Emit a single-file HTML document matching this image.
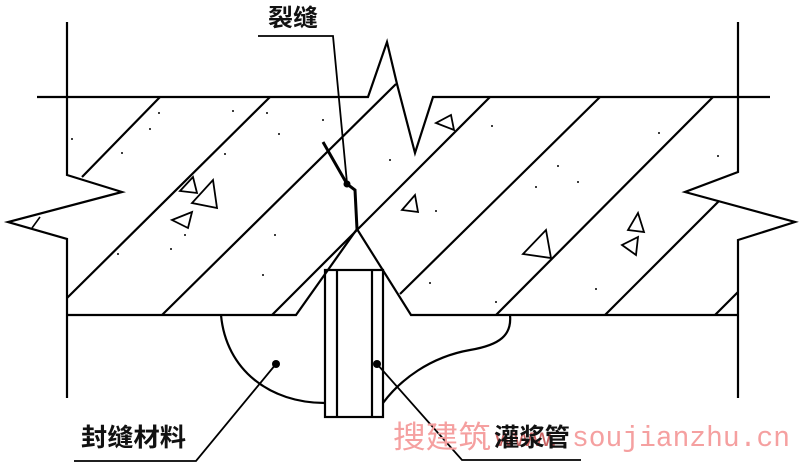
<!DOCTYPE html>
<html><head><meta charset="utf-8"><style>
html,body{margin:0;padding:0;background:#fff;}
svg{display:block;}
</style></head><body>
<svg width="800" height="468" viewBox="0 0 800 468" xmlns="http://www.w3.org/2000/svg">
<g fill="none" stroke="#000" stroke-width="2.2" stroke-linejoin="miter" stroke-linecap="butt">
<!-- walls -->
<polyline points="67,22 67,175 122,192 8,222 67,239 67,398"/>
<polyline points="738,22 738,172 685,192 795,222 738,240 738,398"/>
<line x1="40" y1="217" x2="32" y2="228" stroke-width="1.6"/>
<!-- top line with notch -->
<polyline points="37,97 368,97 387,42 397,84 415,153 433,97 770,97"/>
<!-- bottom line with V -->
<polyline points="67,315 296,315 357,229 411,315 738,315"/>
<!-- hatch lines -->
<line x1="160" y1="97" x2="82" y2="177"/>
<line x1="270" y1="97" x2="67" y2="298"/>
<line x1="396" y1="84" x2="162" y2="315"/>
<line x1="490" y1="97" x2="272" y2="315"/>
<line x1="600" y1="97" x2="400" y2="294"/>
<line x1="713" y1="97" x2="496" y2="315"/>
<line x1="719" y1="201" x2="605" y2="315"/>
<line x1="738" y1="292" x2="715" y2="315"/>
<!-- triangles -->
<polygon points="193,177 197,193 180,191" stroke-width="1.8"/>
<polygon points="213,180 217,208 192,203" stroke-width="1.8"/>
<polygon points="192,212 188,228 172,220" stroke-width="1.8"/>
<polygon points="415,195 418,212 402,210" stroke-width="1.8"/>
<polygon points="451,115 454,130 436,123" stroke-width="1.8"/>
<polygon points="546,230 551,258 523,254" stroke-width="1.8"/>
<polygon points="638,213 644,232 628,230" stroke-width="1.8"/>
<polygon points="638,237 636,255 622,245" stroke-width="1.8"/>
<!-- crack -->
<polyline points="323,142 347,184 355,190 357,229" stroke-width="3"/>
<polyline points="258,36 333,36 347,183" stroke-width="1.8"/>
<!-- tube -->
<rect x="325" y="270" width="58" height="147"/>
<line x1="337" y1="270" x2="337" y2="417"/>
<line x1="372" y1="270" x2="372" y2="417"/>
<!-- sealant -->
<path d="M221,315 C226,370 270,403 325,403"/>
<path d="M510,315 C512,335 500,345 470,350 C430,357 400,380 383,403"/>
<!-- leaders -->
<polyline points="276,364 196,461 74,461" stroke-width="1.8"/>
<polyline points="377,364 462,460 581,460" stroke-width="1.8"/>
</g>
<circle cx="276" cy="364" r="4"/>
<circle cx="377" cy="364" r="4"/>
<circle cx="347" cy="184" r="3.5"/>
<g fill="#000">
<circle cx="72" cy="139" r="1"/><circle cx="150" cy="129" r="1"/><circle cx="159" cy="113" r="1"/><circle cx="122" cy="153" r="1"/>
<circle cx="233" cy="111" r="1"/><circle cx="267" cy="113" r="1"/><circle cx="279" cy="134" r="1"/><circle cx="225" cy="154" r="1"/>
<circle cx="323" cy="120" r="1"/><circle cx="118" cy="254" r="1"/><circle cx="171" cy="249" r="1"/><circle cx="185" cy="235" r="1"/>
<circle cx="275" cy="235" r="1"/><circle cx="263" cy="275" r="1"/><circle cx="390" cy="160" r="1"/><circle cx="436" cy="211" r="1"/>
<circle cx="492" cy="126" r="1"/><circle cx="659" cy="133" r="1"/><circle cx="718" cy="156" r="1"/><circle cx="558" cy="166" r="1"/>
<circle cx="536" cy="187" r="1"/><circle cx="578" cy="182" r="1"/><circle cx="430" cy="283" r="1"/><circle cx="596" cy="289" r="1"/><circle cx="496" cy="302" r="1"/>
</g>
<g font-family="'Liberation Sans','Noto Sans CJK SC',sans-serif" font-weight="bold" fill="#111">
<text x="268" y="26" font-size="24" textLength="50" lengthAdjust="spacingAndGlyphs">裂缝</text>
<text x="81" y="446" font-size="25" textLength="105" lengthAdjust="spacingAndGlyphs">封缝材料</text>
</g>
<g font-family="'Liberation Sans','Noto Sans CJK SC',sans-serif" fill="#f5a0a0">
<text x="393" y="448" font-size="31" textLength="98" lengthAdjust="spacingAndGlyphs">搜建筑</text>
<text x="495" y="446" font-size="26" fill="#c86060">www.</text>
<text x="572" y="446" font-family="'Liberation Mono',monospace" font-size="29" textLength="218" lengthAdjust="spacingAndGlyphs">soujianzhu.cn</text>
</g>
<text x="494" y="446" font-family="'Liberation Sans','Noto Sans CJK SC',sans-serif" font-weight="bold" font-size="25" fill="#111" textLength="76" lengthAdjust="spacingAndGlyphs">灌浆管</text>
</svg>
</body></html>
